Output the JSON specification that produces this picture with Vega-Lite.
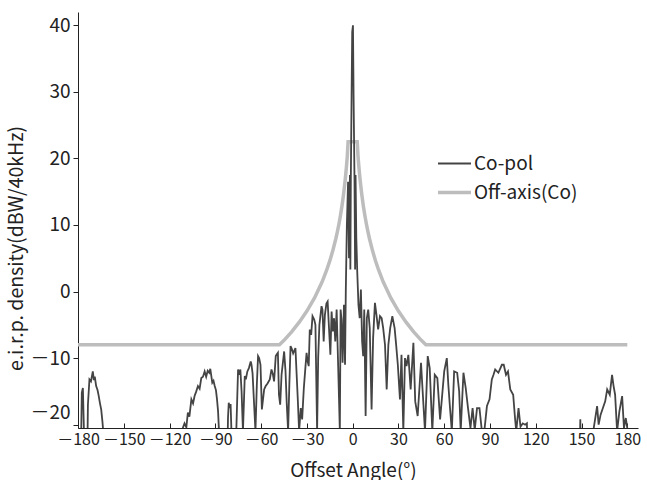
{
  "$schema": "https://vega.github.io/schema/vega-lite/v6.json",
  "width": 560,
  "height": 416,
  "autosize": {"type": "none"},
  "padding": {"left": 78, "top": 12, "right": 9, "bottom": 52},
  "background": "white",
  "config": {
    "font": "Noto Sans CJK JP",
    "view": {"stroke": null},
    "axis": {"labelFont": "Noto Sans CJK JP", "titleFont": "Noto Sans CJK JP", "labelColor": "#222", "titleColor": "#222", "titleFontWeight": "normal", "domainColor": "#222", "tickColor": "#222", "grid": false}
  },
  "data": {"values": [
    {"s":"Off-axis(Co)","a":-180,"v":-8},{"s":"Off-axis(Co)","a":-48,"v":-8},{"s":"Off-axis(Co)","a":-45,"v":-7.33},{"s":"Off-axis(Co)","a":-40,"v":-6.05},{"s":"Off-axis(Co)","a":-35,"v":-4.6},{"s":"Off-axis(Co)","a":-30,"v":-2.93},{"s":"Off-axis(Co)","a":-25,"v":-0.95},{"s":"Off-axis(Co)","a":-20,"v":1.47},{"s":"Off-axis(Co)","a":-17,"v":3.24},{"s":"Off-axis(Co)","a":-15,"v":4.6},{"s":"Off-axis(Co)","a":-13,"v":6.15},{"s":"Off-axis(Co)","a":-11,"v":7.97},{"s":"Off-axis(Co)","a":-10,"v":9},{"s":"Off-axis(Co)","a":-9,"v":10.14},{"s":"Off-axis(Co)","a":-8,"v":11.42},{"s":"Off-axis(Co)","a":-7,"v":12.87},{"s":"Off-axis(Co)","a":-6,"v":14.55},{"s":"Off-axis(Co)","a":-5,"v":16.53},{"s":"Off-axis(Co)","a":-4.5,"v":17.67},{"s":"Off-axis(Co)","a":-4,"v":18.95},{"s":"Off-axis(Co)","a":-3.5,"v":20.4},{"s":"Off-axis(Co)","a":-3,"v":22.5},{"s":"Off-axis(Co)","a":3,"v":22.5},{"s":"Off-axis(Co)","a":3.5,"v":20.4},{"s":"Off-axis(Co)","a":4,"v":18.95},{"s":"Off-axis(Co)","a":4.5,"v":17.67},{"s":"Off-axis(Co)","a":5,"v":16.53},{"s":"Off-axis(Co)","a":6,"v":14.55},{"s":"Off-axis(Co)","a":7,"v":12.87},{"s":"Off-axis(Co)","a":8,"v":11.42},{"s":"Off-axis(Co)","a":9,"v":10.14},{"s":"Off-axis(Co)","a":10,"v":9},{"s":"Off-axis(Co)","a":11,"v":7.97},{"s":"Off-axis(Co)","a":13,"v":6.15},{"s":"Off-axis(Co)","a":15,"v":4.6},{"s":"Off-axis(Co)","a":17,"v":3.24},{"s":"Off-axis(Co)","a":20,"v":1.47},{"s":"Off-axis(Co)","a":25,"v":-0.95},{"s":"Off-axis(Co)","a":30,"v":-2.93},{"s":"Off-axis(Co)","a":35,"v":-4.6},{"s":"Off-axis(Co)","a":40,"v":-6.05},{"s":"Off-axis(Co)","a":45,"v":-7.33},{"s":"Off-axis(Co)","a":48,"v":-8},{"s":"Off-axis(Co)","a":180,"v":-8},
    {"s":"Co-pol","a":-180,"v":-30},{"s":"Co-pol","a":-178.5,"v":-30},{"s":"Co-pol","a":-177.5,"v":-15.2},{"s":"Co-pol","a":-176.8,"v":-14.5},{"s":"Co-pol","a":-176.2,"v":-20},{"s":"Co-pol","a":-175.5,"v":-30},{"s":"Co-pol","a":-174.2,"v":-30},{"s":"Co-pol","a":-173.5,"v":-17},{"s":"Co-pol","a":-172.5,"v":-13.2},{"s":"Co-pol","a":-171.5,"v":-13.5},{"s":"Co-pol","a":-170.3,"v":-12},{"s":"Co-pol","a":-169.6,"v":-13.3},{"s":"Co-pol","a":-169,"v":-12.8},{"s":"Co-pol","a":-168.1,"v":-14.2},{"s":"Co-pol","a":-167.2,"v":-14.8},{"s":"Co-pol","a":-166.4,"v":-15.7},{"s":"Co-pol","a":-165.6,"v":-16.8},{"s":"Co-pol","a":-164.8,"v":-17.7},{"s":"Co-pol","a":-164,"v":-19.5},{"s":"Co-pol","a":-163.1,"v":-22},{"s":"Co-pol","a":-162,"v":-30},
    {"s":"Co-pol","a":-113,"v":-30},{"s":"Co-pol","a":-111.3,"v":-20.5},{"s":"Co-pol","a":-110.2,"v":-19.8},{"s":"Co-pol","a":-109,"v":-20.4},{"s":"Co-pol","a":-108,"v":-18.2},{"s":"Co-pol","a":-107,"v":-18.8},{"s":"Co-pol","a":-105.7,"v":-16.2},{"s":"Co-pol","a":-104.6,"v":-16.8},{"s":"Co-pol","a":-103.6,"v":-15.7},{"s":"Co-pol","a":-102.5,"v":-15},{"s":"Co-pol","a":-101.4,"v":-14.2},{"s":"Co-pol","a":-100.3,"v":-14.6},{"s":"Co-pol","a":-99.2,"v":-13},{"s":"Co-pol","a":-98.1,"v":-12.8},{"s":"Co-pol","a":-97,"v":-12},{"s":"Co-pol","a":-96,"v":-12.8},{"s":"Co-pol","a":-95,"v":-11.9},{"s":"Co-pol","a":-94,"v":-12.2},{"s":"Co-pol","a":-93.3,"v":-11.6},{"s":"Co-pol","a":-92,"v":-13.7},{"s":"Co-pol","a":-91.2,"v":-13.4},{"s":"Co-pol","a":-90.4,"v":-14.2},{"s":"Co-pol","a":-89.6,"v":-14.8},{"s":"Co-pol","a":-88.9,"v":-16.2},{"s":"Co-pol","a":-88.2,"v":-18},{"s":"Co-pol","a":-87.6,"v":-21},{"s":"Co-pol","a":-86.5,"v":-30},
    {"s":"Co-pol","a":-82.5,"v":-30},{"s":"Co-pol","a":-81.7,"v":-19},{"s":"Co-pol","a":-81.2,"v":-16.7},{"s":"Co-pol","a":-80.6,"v":-17.5},{"s":"Co-pol","a":-80,"v":-16.9},{"s":"Co-pol","a":-79.5,"v":-20.5},{"s":"Co-pol","a":-78.5,"v":-30},{"s":"Co-pol","a":-77,"v":-30},{"s":"Co-pol","a":-76.2,"v":-20.5},{"s":"Co-pol","a":-75.1,"v":-11.7},{"s":"Co-pol","a":-74.3,"v":-12.5},{"s":"Co-pol","a":-73.6,"v":-11.7},{"s":"Co-pol","a":-72.8,"v":-15},{"s":"Co-pol","a":-71.9,"v":-21},{"s":"Co-pol","a":-70.7,"v":-12.7},{"s":"Co-pol","a":-70,"v":-13.2},{"s":"Co-pol","a":-69,"v":-12},{"s":"Co-pol","a":-68,"v":-11.5},{"s":"Co-pol","a":-66.8,"v":-10.5},{"s":"Co-pol","a":-66.3,"v":-11},{"s":"Co-pol","a":-65.6,"v":-12.3},{"s":"Co-pol","a":-64.8,"v":-16},{"s":"Co-pol","a":-63.7,"v":-21},{"s":"Co-pol","a":-62.8,"v":-14},{"s":"Co-pol","a":-62,"v":-9.7},{"s":"Co-pol","a":-61.3,"v":-10},{"s":"Co-pol","a":-60.4,"v":-11},{"s":"Co-pol","a":-59.5,"v":-17.7},{"s":"Co-pol","a":-58,"v":-14.7},{"s":"Co-pol","a":-57,"v":-14.2},{"s":"Co-pol","a":-55.8,"v":-13.8},{"s":"Co-pol","a":-54.3,"v":-13.2},{"s":"Co-pol","a":-53.2,"v":-11.7},{"s":"Co-pol","a":-52.3,"v":-12.4},{"s":"Co-pol","a":-51.5,"v":-13.5},{"s":"Co-pol","a":-50.4,"v":-9.7},{"s":"Co-pol","a":-49.9,"v":-9.5},{"s":"Co-pol","a":-49,"v":-9.2},{"s":"Co-pol","a":-48.3,"v":-15.5},{"s":"Co-pol","a":-47.5,"v":-17},{"s":"Co-pol","a":-46.6,"v":-12.5},{"s":"Co-pol","a":-44.9,"v":-9},{"s":"Co-pol","a":-44,"v":-12},{"s":"Co-pol","a":-43.2,"v":-16.8},{"s":"Co-pol","a":-42.3,"v":-21},{"s":"Co-pol","a":-41.5,"v":-14},{"s":"Co-pol","a":-40.7,"v":-8.2},{"s":"Co-pol","a":-39.9,"v":-8.6},{"s":"Co-pol","a":-39,"v":-9.3},{"s":"Co-pol","a":-37.5,"v":-8.5},{"s":"Co-pol","a":-36.8,"v":-12},{"s":"Co-pol","a":-36,"v":-16},{"s":"Co-pol","a":-35.1,"v":-21},{"s":"Co-pol","a":-34,"v":-17.5},{"s":"Co-pol","a":-33.1,"v":-19.2},{"s":"Co-pol","a":-32,"v":-14.5},{"s":"Co-pol","a":-31,"v":-11.5},{"s":"Co-pol","a":-30.2,"v":-9.2},{"s":"Co-pol","a":-29.5,"v":-10.5},{"s":"Co-pol","a":-28.8,"v":-11.2},{"s":"Co-pol","a":-28.1,"v":-5.7},{"s":"Co-pol","a":-27.2,"v":-6.5},{"s":"Co-pol","a":-26.3,"v":-3.7},{"s":"Co-pol","a":-25.2,"v":-4.2},{"s":"Co-pol","a":-24.4,"v":-5},{"s":"Co-pol","a":-23.3,"v":-21},{"s":"Co-pol","a":-22.6,"v":-10},{"s":"Co-pol","a":-21.8,"v":-5},{"s":"Co-pol","a":-20.4,"v":-2.2},{"s":"Co-pol","a":-19.8,"v":-2.7},{"s":"Co-pol","a":-19,"v":-7.5},{"s":"Co-pol","a":-18.2,"v":-3.5},{"s":"Co-pol","a":-17.2,"v":-1.8},{"s":"Co-pol","a":-16.4,"v":-1.5},{"s":"Co-pol","a":-15.5,"v":-5.5},{"s":"Co-pol","a":-14.6,"v":-9.5},{"s":"Co-pol","a":-13.8,"v":-3},{"s":"Co-pol","a":-13,"v":-6},{"s":"Co-pol","a":-12.2,"v":-4},{"s":"Co-pol","a":-11.4,"v":-7.5},{"s":"Co-pol","a":-10.5,"v":-2.7},{"s":"Co-pol","a":-9.5,"v":-11.2},{"s":"Co-pol","a":-8.4,"v":-21},{"s":"Co-pol","a":-7.9,"v":-2.7},{"s":"Co-pol","a":-7.3,"v":-4.2},{"s":"Co-pol","a":-6.6,"v":-10.7},{"s":"Co-pol","a":-5.7,"v":-2},{"s":"Co-pol","a":-5,"v":-11},{"s":"Co-pol","a":-4.5,"v":0},{"s":"Co-pol","a":-3.8,"v":10},{"s":"Co-pol","a":-3,"v":16.5},{"s":"Co-pol","a":-2.4,"v":5},{"s":"Co-pol","a":-1.8,"v":17.5},{"s":"Co-pol","a":-1.5,"v":3.3},{"s":"Co-pol","a":-1.2,"v":17},{"s":"Co-pol","a":-0.7,"v":29.5},{"s":"Co-pol","a":-0.3,"v":39},{"s":"Co-pol","a":0.2,"v":40},{"s":"Co-pol","a":0.6,"v":29.5},{"s":"Co-pol","a":1.2,"v":17},{"s":"Co-pol","a":1.6,"v":3.3},{"s":"Co-pol","a":1.9,"v":17.5},{"s":"Co-pol","a":2.4,"v":8},{"s":"Co-pol","a":3,"v":3},{"s":"Co-pol","a":3.8,"v":-2},{"s":"Co-pol","a":4.6,"v":-4},{"s":"Co-pol","a":5.4,"v":0.3},{"s":"Co-pol","a":6.2,"v":-7.5},{"s":"Co-pol","a":6.9,"v":-9.7},{"s":"Co-pol","a":7.6,"v":-2.7},{"s":"Co-pol","a":8.5,"v":-18.7},{"s":"Co-pol","a":9.3,"v":-4},{"s":"Co-pol","a":10.2,"v":-2.7},{"s":"Co-pol","a":11.2,"v":-5.5},{"s":"Co-pol","a":12.4,"v":-17.7},{"s":"Co-pol","a":13.4,"v":-7},{"s":"Co-pol","a":14.6,"v":-1.7},{"s":"Co-pol","a":15.6,"v":-3.5},{"s":"Co-pol","a":16.7,"v":-5.7},{"s":"Co-pol","a":17.9,"v":-3.7},{"s":"Co-pol","a":19,"v":-4},{"s":"Co-pol","a":20,"v":-5.5},{"s":"Co-pol","a":21.2,"v":-8},{"s":"Co-pol","a":22.3,"v":-14.7},{"s":"Co-pol","a":23.4,"v":-8},{"s":"Co-pol","a":24.6,"v":-5.5},{"s":"Co-pol","a":26,"v":-3.7},{"s":"Co-pol","a":27.5,"v":-5.5},{"s":"Co-pol","a":28.5,"v":-8},{"s":"Co-pol","a":29.6,"v":-11},{"s":"Co-pol","a":31,"v":-16.2},{"s":"Co-pol","a":32,"v":-9.5},{"s":"Co-pol","a":33.2,"v":-21},{"s":"Co-pol","a":34.3,"v":-10},{"s":"Co-pol","a":35.3,"v":-11.2},{"s":"Co-pol","a":36.5,"v":-9.5},{"s":"Co-pol","a":38,"v":-14.7},{"s":"Co-pol","a":39.8,"v":-7.7},{"s":"Co-pol","a":41,"v":-16.5},{"s":"Co-pol","a":42.6,"v":-18.7},{"s":"Co-pol","a":44.8,"v":-10.7},{"s":"Co-pol","a":46,"v":-15.5},{"s":"Co-pol","a":47.4,"v":-21},{"s":"Co-pol","a":49.2,"v":-9.7},{"s":"Co-pol","a":50.5,"v":-11.5},{"s":"Co-pol","a":52.2,"v":-21},{"s":"Co-pol","a":53.8,"v":-12.5},{"s":"Co-pol","a":55.5,"v":-13},{"s":"Co-pol","a":57.3,"v":-19.2},{"s":"Co-pol","a":58.5,"v":-16},{"s":"Co-pol","a":60,"v":-12},{"s":"Co-pol","a":61.7,"v":-10},{"s":"Co-pol","a":62.7,"v":-14},{"s":"Co-pol","a":63.8,"v":-17.5},{"s":"Co-pol","a":65,"v":-21},{"s":"Co-pol","a":66.5,"v":-12},{"s":"Co-pol","a":68.5,"v":-12.2},{"s":"Co-pol","a":69.8,"v":-15},{"s":"Co-pol","a":70.8,"v":-21},{"s":"Co-pol","a":72.6,"v":-12.2},{"s":"Co-pol","a":74.1,"v":-14.5},{"s":"Co-pol","a":75.6,"v":-17.5},{"s":"Co-pol","a":77.2,"v":-20.5},{"s":"Co-pol","a":78.6,"v":-17.5},{"s":"Co-pol","a":80,"v":-20.8},{"s":"Co-pol","a":81.5,"v":-17.5},{"s":"Co-pol","a":83.1,"v":-17.5},{"s":"Co-pol","a":84.7,"v":-21},{"s":"Co-pol","a":86.5,"v":-20.5},{"s":"Co-pol","a":88,"v":-17.2},{"s":"Co-pol","a":89.7,"v":-16.2},{"s":"Co-pol","a":91.2,"v":-13.2},{"s":"Co-pol","a":92.3,"v":-12.5},{"s":"Co-pol","a":93.4,"v":-11.7},{"s":"Co-pol","a":95.5,"v":-12.2},{"s":"Co-pol","a":97.8,"v":-11},{"s":"Co-pol","a":99,"v":-11},{"s":"Co-pol","a":100.5,"v":-12.5},{"s":"Co-pol","a":101.8,"v":-12},{"s":"Co-pol","a":103.3,"v":-14.7},{"s":"Co-pol","a":105.2,"v":-15.5},{"s":"Co-pol","a":106.4,"v":-19},{"s":"Co-pol","a":107.2,"v":-21},{"s":"Co-pol","a":108.7,"v":-17.5},{"s":"Co-pol","a":110,"v":-20.3},{"s":"Co-pol","a":111.5,"v":-19.8},{"s":"Co-pol","a":113,"v":-20},{"s":"Co-pol","a":114.2,"v":-19.8},{"s":"Co-pol","a":115,"v":-30},
    {"s":"Co-pol","a":148.2,"v":-30},{"s":"Co-pol","a":149.2,"v":-19.2},{"s":"Co-pol","a":150,"v":-30},{"s":"Co-pol","a":157,"v":-30},{"s":"Co-pol","a":158,"v":-20.5},{"s":"Co-pol","a":160.2,"v":-17.2},{"s":"Co-pol","a":161.2,"v":-20},{"s":"Co-pol","a":162.5,"v":-18.5},{"s":"Co-pol","a":164,"v":-17.5},{"s":"Co-pol","a":165.5,"v":-16.5},{"s":"Co-pol","a":166.8,"v":-14.7},{"s":"Co-pol","a":168.5,"v":-15.5},{"s":"Co-pol","a":170,"v":-12.5},{"s":"Co-pol","a":171,"v":-14.2},{"s":"Co-pol","a":172,"v":-15.5},{"s":"Co-pol","a":173.3,"v":-21},{"s":"Co-pol","a":174.8,"v":-18},{"s":"Co-pol","a":176.6,"v":-15.7},{"s":"Co-pol","a":177.8,"v":-20.5},{"s":"Co-pol","a":179,"v":-19},{"s":"Co-pol","a":180.3,"v":-21}
  ]},
  "encoding": {
    "x": {"field": "a", "type": "quantitative", "scale": {"domain": [-180, 187], "nice": false, "zero": false},
      "axis": {"values": [-180,-150,-120,-90,-60,-30,0,30,60,90,120,150,180], "labelExpr": "replace(datum.label, '−', '－')", "labelFontSize": 16, "labelOverlap": false, "labelBound": false, "labelFlush": false, "title": "Offset Angle(°)", "titleFontSize": 19, "tickSize": -5, "labelPadding": 8, "titleX": 275, "titleY": 42, "titleBaseline": "middle"}},
    "y": {"field": "v", "type": "quantitative", "scale": {"domain": [-20.5, 42], "nice": false, "zero": false},
      "axis": {"values": [-20,-10,0,10,20,30,40], "labelExpr": "replace(datum.label, '−', '－')", "labelFontSize": 19, "labelOverlap": false, "title": "e.i.r.p. density(dBW/40kHz)", "titleFontSize": 19.5, "tickSize": 5, "labelPadding": 3, "labelFlush": 5, "labelFlushOffset": -2, "titleY": 236, "titleX": -62, "titleBaseline": "middle"}},
    "color": {"field": "s", "type": "ordinal", "scale": {"domain": ["Co-pol", "Off-axis(Co)"], "range": ["#444444", "#bdbdbd"]},
      "legend": {"title": null, "orient": "none", "legendX": 358, "legendY": 134, "symbolType": "stroke", "symbolSize": 1089, "labelFontSize": 19, "labelFont": "Noto Sans CJK JP", "labelColor": "#222", "labelOffset": 1, "rowPadding": -3}},
    "strokeWidth": {"field": "s", "type": "ordinal", "scale": {"domain": ["Co-pol", "Off-axis(Co)"], "range": [1.8, 3.5]}, "legend": {"title": null, "orient": "none", "legendX": 358, "legendY": 134, "symbolType": "stroke", "symbolSize": 1089, "labelFontSize": 19, "labelColor": "#222", "labelOffset": 1, "rowPadding": -3}}
  },
  "layer": [
    {"transform": [{"filter": "datum.s === 'Off-axis(Co)'"}], "mark": {"type": "line", "clip": true}},
    {"transform": [{"filter": "datum.s === 'Co-pol'"}], "mark": {"type": "line", "clip": true}}
  ]
}
